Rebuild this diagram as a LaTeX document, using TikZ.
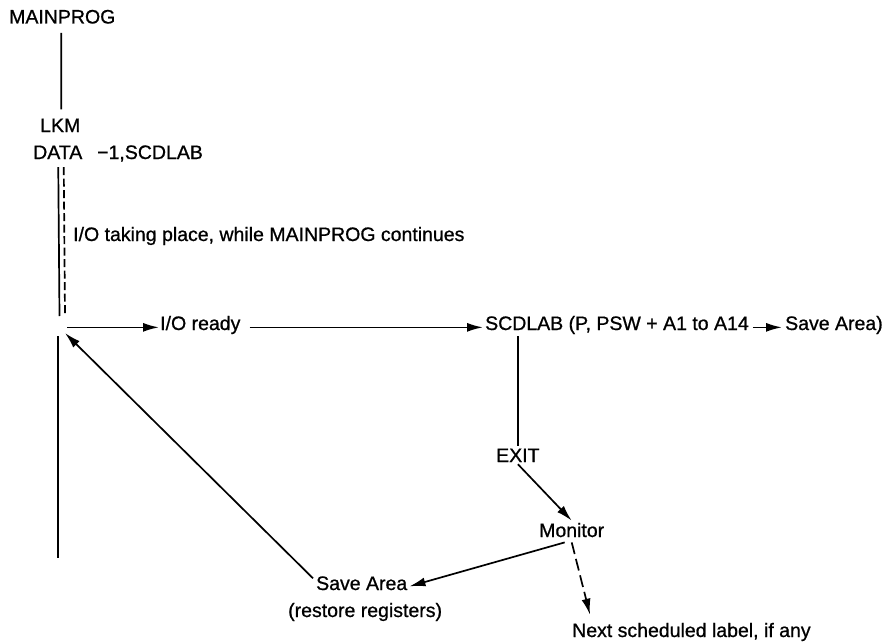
\documentclass[tikz,border=0pt]{standalone}
\usepackage{fontspec}
\setmainfont{Liberation Sans}[RawFeature={embolden=0.8}]
\usetikzlibrary{arrows.meta,calc}
\begin{document}
\begin{tikzpicture}[x=1pt,y=-1pt,
  lbl/.style={anchor=base west,inner xsep=0pt,inner ysep=2pt,font=\fontsize{19.5}{23}\selectfont},
  conn/.style={line width=1.7pt,black},
  arr/.style={conn,-{Latex[length=16pt,width=9pt]}},
  dsh/.style={dash pattern=on 8pt off 3.5pt},
  longdsh/.style={dash pattern=on 12pt off 5pt}]
\fill[white] (0,0) rectangle (892,642);
\useasboundingbox (0,0) rectangle (892,642);
% texts
\node[lbl] (mainprog) at (9,23.5) {MAINPROG};
\node[lbl] (lkm) at (40,132) {LKM};
\node[lbl] (data) at (33,159) {DATA};
\node[lbl] (dataarg) at (97,159) {−1,SCDLAB};
\node[lbl] (iotake) at (73,241) {I/O taking place, while MAINPROG continues};
\node[lbl] (ioready) at (160,330) {I/O ready};
\node[lbl] (scd) at (485,330) {SCDLAB (P, PSW + A1 to A14};
\node[lbl] (sa1) at (785,330) {Save Area)};
\node[lbl] (exit) at (496,462) {EXIT};
\node[lbl] (monitor) at (539,537) {Monitor};
\node[lbl] (savearea) at (316,590) {Save Area};
\node[lbl] (restore) at (288,617) {(restore registers)};
\node[lbl] (next) at (572,637) {Next scheduled label, if any};
\coordinate (junc) at (62,324);
% connectors
\draw[conn] ($(mainprog.south)+(-1,7)$) -- ($(lkm.north)+(1,-7)$);
\draw[conn] ($(data.south)+(0.5,6)$) -- ($(junc)+(-2.5,-8)$);
\draw[conn,dsh] ($(data.south)+(6,6)$) -- ($(junc)+(3,-8)$);
\draw[arr] ($(ioready.mid west -| junc)+(5,0)$) -- ($(ioready.mid west)+(-1,0)$);
\draw[arr] ($(ioready.mid east)+(9,0)$) -- ($(scd.mid west)+(-2,0)$);
\draw[arr] ($(scd.mid east)+(4,0)$) -- ($(sa1.mid west)+(-3,0)$);
\draw[conn] (exit.north |- scd.south) -- (exit.north);
\draw[arr] (exit.south) -- (monitor.north);
\draw[arr] ($(monitor.south)+(-7,3)$) -- ($(savearea.mid east)+(2,-1)$);
\draw[arr,longdsh] ($(monitor.south)+(0,3)$) -- ($(next.north west)+(18,-6)$);
\draw[arr] ($(savearea.west)+(-3,-5)$) -- ($(junc)+(3,9)$);
\draw[conn] ($(junc)+(-4,12)$) -- ($(junc)+(-4,234)$);
\end{tikzpicture}
\end{document}
